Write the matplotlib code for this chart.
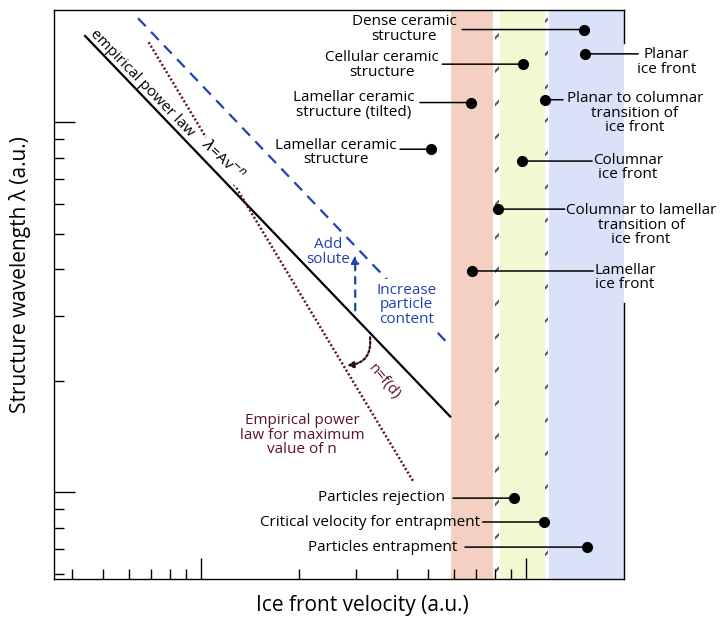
import matplotlib.pyplot as plt
from matplotlib.ticker import FixedLocator, NullFormatter

plt.rcParams['font.family'] = ['Open Sans', 'DejaVu Sans']
plt.rcParams['hatch.linewidth'] = 1.5

# trend lines, ice front velocity v vs. structure wavelength lambda (a.u.)
power_law_v = [0.44, 5.84]
power_law_lam = [17.1, 1.6]
solute_v = [0.64, 5.80]
solute_lam = [19.1, 2.50]
max_n_v = [0.69, 4.52]
max_n_lam = [16.45, 1.06]

# "add solute" shift
solute_arrow_v = 2.98
solute_arrow_lam = [3.10, 4.37]

# n = f(d) arc: from the power law line to the max-n line
arc_start = (3.31, 2.62)
arc_end = (2.81, 2.20)

# velocity regions and the boundaries between them
band_left = [5.88, 8.32, 11.77]
band_right = [7.91, 11.43, 20.0]
band_colors = ['#f3d0c2', '#f1f8d2', '#d9e2f8']
boundary_v = [8.14, 11.55]

# labelled points
structure_labels = ['Dense ceramic\nstructure', 'Cellular ceramic\nstructure',
                    'Lamellar ceramic\nstructure (tilted)', 'Lamellar ceramic\nstructure']
structure_v = [15.1, 9.79, 6.77, 5.10]
structure_lam = [17.8, 14.35, 11.3, 8.45]

front_labels = ['Planar\nice front', 'Planar to columnar\ntransition of\nice front',
                'Columnar\nice front', 'Columnar to lamellar\ntransition of\nice front',
                'Lamellar\nice front']
front_v = [15.2, 11.4, 9.72, 8.20, 6.82]
front_lam = [15.3, 11.5, 7.85, 5.82, 3.96]

particle_labels = ['Particles rejection', 'Critical velocity for entrapment',
                   'Particles entrapment']
particle_v = [9.19, 11.36, 15.4]
particle_lam = [0.963, 0.83, 0.71]

x_major = [1, 10]
x_minor = [0.4, 0.5, 0.6, 0.7, 0.8, 0.9, 2, 3, 4, 5, 6, 7, 8, 9]
y_major = [1, 10]
y_minor = [0.6, 0.7, 0.8, 0.9, 2, 3, 4, 5, 6, 7, 8, 9]

# label layout (axes fraction): where leader lines stop, where text sits
structure_line_end = [0.716, 0.681, 0.642, 0.607]
structure_text_xy = [(0.614, 0.967), (0.575, 0.903), (0.526, 0.833), (0.495, 0.750)]
front_line_end = [1.025, 0.893, 0.944, 0.896, 0.946]
front_text_xy = [(1.074, 0.909), (1.019, 0.819), (1.007, 0.723), (1.030, 0.622), (1.002, 0.530)]
particle_line_end = [0.700, 0.752, 0.721]
particle_text_xy = [(0.686, 0.144), (0.747, 0.100), (0.707, 0.056)]

BLUE = '#2141b0'
MAROON = '#5e1428'
FS = 11
LS = 0.95

fig = plt.figure(figsize=(7.2, 6.19), dpi=100)
ax = fig.add_axes([0.075, 0.0646, 0.7917, 0.9192])
ax.set_xscale('log')
ax.set_yscale('log')
ax.set_xlim(0.353, 20)
ax.set_ylim(0.582, 20.1)

ax.xaxis.set_major_locator(FixedLocator(x_major))
ax.xaxis.set_minor_locator(FixedLocator(x_minor))
ax.yaxis.set_major_locator(FixedLocator(y_major))
ax.yaxis.set_minor_locator(FixedLocator(y_minor))
for axis in (ax.xaxis, ax.yaxis):
    axis.set_major_formatter(NullFormatter())
    axis.set_minor_formatter(NullFormatter())
ax.tick_params(which='both', direction='in', width=1.0, top=False, right=False)
ax.tick_params(which='major', length=15)
ax.tick_params(which='minor', length=7.5)

for s in ax.spines.values():
    s.set_linewidth(1.0)
ax.spines['right'].set_visible(False)
for y0, y1 in [(0, 0.485), (0.942, 1)]:
    ax.plot([1, 1], [y0, y1], transform=ax.transAxes, color='k', lw=1.0, clip_on=False)

# velocity regions
for l, r, c in zip(band_left, band_right, band_colors):
    ax.axvspan(l, r, color=c, lw=0, zorder=0)
for b in boundary_v:
    ax.axvspan(b / 1.014, b * 1.014, facecolor='white', edgecolor='#555555',
               hatch='/', lw=0, zorder=0.5)

# trend lines
ax.plot(power_law_v, power_law_lam, color='k', lw=1.6, zorder=2)
ax.plot(solute_v, solute_lam, color=BLUE, lw=1.6, ls=(0, (5, 3.5)), zorder=2)
ax.plot(max_n_v, max_n_lam, color=MAROON, lw=1.8, ls=(0, (0.8, 0.9)), zorder=2)

ax.annotate('', xy=(solute_arrow_v, solute_arrow_lam[1]),
            xytext=(solute_arrow_v, solute_arrow_lam[0]),
            arrowprops=dict(arrowstyle='-|>', color=BLUE, lw=1.6, ls=(0, (3, 3)),
                            mutation_scale=11, shrinkA=0, shrinkB=0))
ax.annotate('', xy=arc_end, xytext=arc_start,
            arrowprops=dict(arrowstyle='-|>', color='#2a1010', lw=1.6, ls=(0, (1, 1)),
                            connectionstyle='arc3,rad=-0.5', mutation_scale=9,
                            shrinkA=0, shrinkB=0))

# line annotations
ax.text(0.155, 0.872, 'empirical power law', transform=ax.transAxes, rotation=-46,
        ha='center', va='center', rotation_mode='anchor', fontsize=FS)
ax.text(0.295, 0.736, r'$\lambda$=Av$^{-n}$', transform=ax.transAxes, rotation=-43,
        ha='center', va='center', rotation_mode='anchor', fontsize=FS, zorder=3,
        bbox=dict(facecolor='white', edgecolor='none', pad=1))
ax.text(0.481, 0.575, 'Add\nsolute', transform=ax.transAxes, ha='center', va='center',
        color=BLUE, fontsize=FS, linespacing=LS)
ax.text(0.619, 0.482, 'Increase\nparticle\ncontent', transform=ax.transAxes, ha='center',
        va='center', color=BLUE, fontsize=FS, linespacing=LS, zorder=3,
        bbox=dict(facecolor='white', edgecolor='none', pad=3))
ax.text(0.579, 0.346, 'n=f(d)', transform=ax.transAxes, rotation=-50, ha='center',
        va='center', rotation_mode='anchor', color=MAROON, fontsize=FS)
ax.text(0.435, 0.253, 'Empirical power\nlaw for maximum\nvalue of n', transform=ax.transAxes,
        ha='center', va='center', color=MAROON, fontsize=FS, linespacing=LS)


def leader(v, lam, x_end):
    ax.annotate('', xy=(v, lam), xytext=(x_end, lam), textcoords=('axes fraction', 'data'),
                arrowprops=dict(arrowstyle='-', color='k', lw=1.1, shrinkA=0, shrinkB=0),
                annotation_clip=False, zorder=4)
    ax.plot(v, lam, 'o', color='k', ms=7, zorder=5, clip_on=False)


for lab, v, lam, xe, (tx, ty) in zip(structure_labels, structure_v, structure_lam,
                                     structure_line_end, structure_text_xy):
    leader(v, lam, xe)
    ax.text(tx, ty, lab, transform=ax.transAxes, ha='center', va='center',
            fontsize=FS, linespacing=LS)

for lab, v, lam, xe, (tx, ty) in zip(front_labels, front_v, front_lam,
                                     front_line_end, front_text_xy):
    leader(v, lam, xe)
    ax.text(tx, ty, lab, transform=ax.transAxes, ha='center', va='center',
            fontsize=FS, linespacing=LS, clip_on=False)

for lab, v, lam, xe, (tx, ty) in zip(particle_labels, particle_v, particle_lam,
                                     particle_line_end, particle_text_xy):
    leader(v, lam, xe)
    ax.text(tx, ty, lab, transform=ax.transAxes, ha='right', va='center', fontsize=FS)

fig.text(0.503, 0.0226, 'Ice front velocity (a.u.)', ha='center', va='center', fontsize=15)
fig.text(0.028, 0.556, 'Structure wavelength \u03bb (a.u.)', ha='center', va='center',
         rotation=90, fontsize=15)

fig.savefig('out.png', dpi=100)
